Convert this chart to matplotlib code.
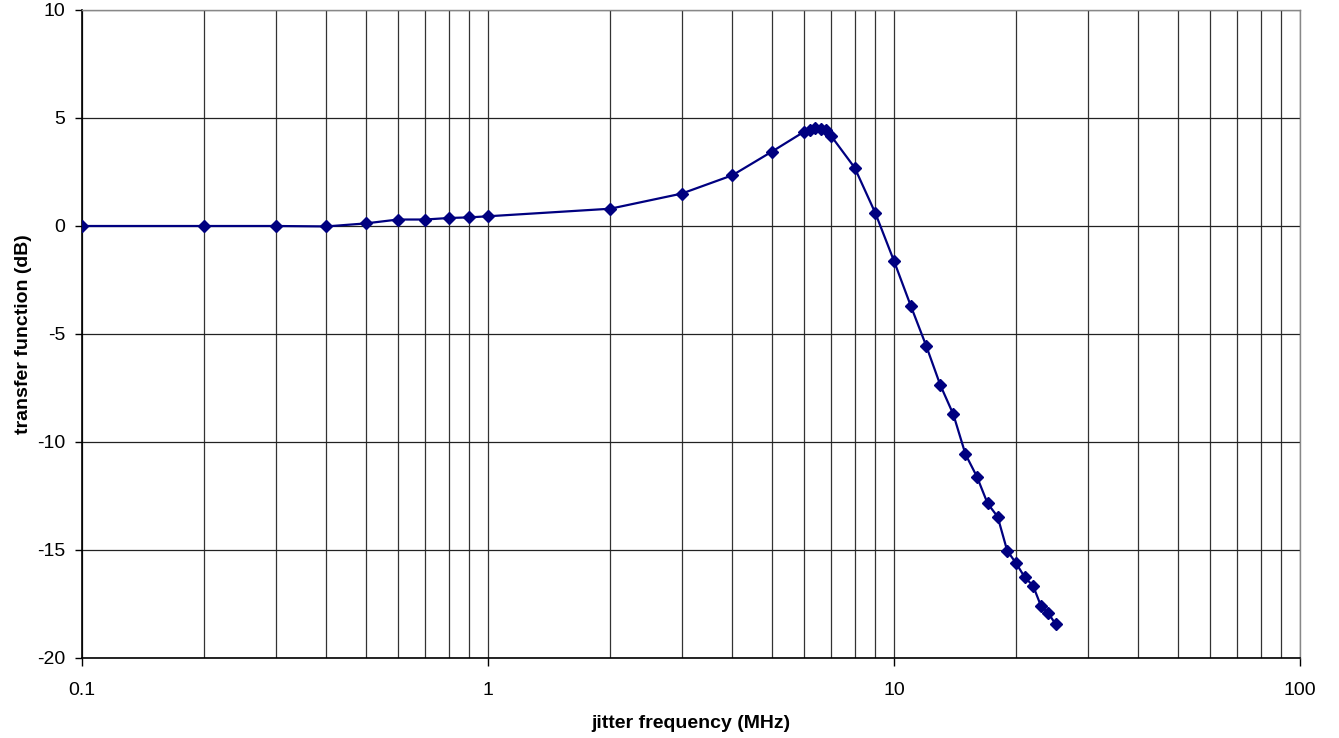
import matplotlib
matplotlib.use("Agg")
import matplotlib.pyplot as plt
from matplotlib.ticker import FixedLocator, FixedFormatter, NullFormatter

plt.rcParams['font.family'] = ['Liberation Sans', 'DejaVu Sans']
plt.rcParams['axes.unicode_minus'] = False

# jitter frequency (MHz) and transfer function (dB)
freq = [0.1, 0.2, 0.3, 0.4, 0.5, 0.6, 0.7, 0.8, 0.9, 1,
        2, 3, 4, 5, 6, 6.2, 6.4, 6.6, 6.8, 7,
        8, 9, 10, 11, 12, 13, 14, 15, 16, 17,
        18, 19, 20, 21, 22, 23, 24, 25]
gain = [0.0, 0.0, 0.0, -0.02, 0.12, 0.3, 0.3, 0.37, 0.4, 0.45,
        0.8, 1.5, 2.35, 3.44, 4.36, 4.46, 4.55, 4.5, 4.45, 4.17,
        2.7, 0.59, -1.62, -3.7, -5.54, -7.36, -8.72, -10.57, -11.6, -12.84,
        -13.46, -15.03, -15.62, -16.27, -16.65, -17.58, -17.93, -18.43]

x_major = [0.1, 1, 10, 100]
x_labels = ['0.1', '1', '10', '100']
x_grid = [m * d for d in (0.1, 1, 10) for m in range(1, 10)] + [100]
y_ticks = [-20, -15, -10, -5, 0, 5, 10]

fig = plt.figure(figsize=(13.39, 7.38), dpi=100)
ax = fig.add_axes([82 / 1339, 1 - 658 / 738, 1218 / 1339, 648 / 738])

ax.set_xscale('log')
ax.set_xlim(0.1, 100)
ax.set_ylim(-20, 10)

# grid lines drawn by hand so minor decades get lines too
for xv in x_grid:
    ax.axvline(xv, color='#333333', linewidth=0.9, zorder=1)
for yv in y_ticks:
    ax.axhline(yv, color='#222222', linewidth=0.9, zorder=1)

ax.plot(freq, gain, color='#000080', linewidth=1.6, marker='D',
        markersize=6.2, markerfacecolor='#000080', markeredgecolor='#000080',
        zorder=3)

ax.xaxis.set_major_locator(FixedLocator(x_major))
ax.xaxis.set_major_formatter(FixedFormatter(x_labels))
ax.xaxis.set_minor_locator(FixedLocator([]))
ax.xaxis.set_minor_formatter(NullFormatter())
ax.set_yticks(y_ticks)
ax.set_yticklabels([str(v) for v in y_ticks])

ax.tick_params(axis='x', direction='out', length=6, width=1, labelsize=14, pad=11)
ax.tick_params(axis='y', direction='out', length=5, width=1, labelsize=14, pad=7)

for side in ['top', 'right']:
    ax.spines[side].set_color('#888888')
    ax.spines[side].set_linewidth(1.0)
for side in ['left', 'bottom']:
    ax.spines[side].set_color('black')
    ax.spines[side].set_linewidth(1.2)

ax.set_xlabel('jitter frequency (MHz)', fontsize=14, fontweight='bold', labelpad=12)
ax.set_ylabel('transfer function (dB)', fontsize=14, fontweight='bold', labelpad=4)

fig.savefig('out.png', dpi=100)
